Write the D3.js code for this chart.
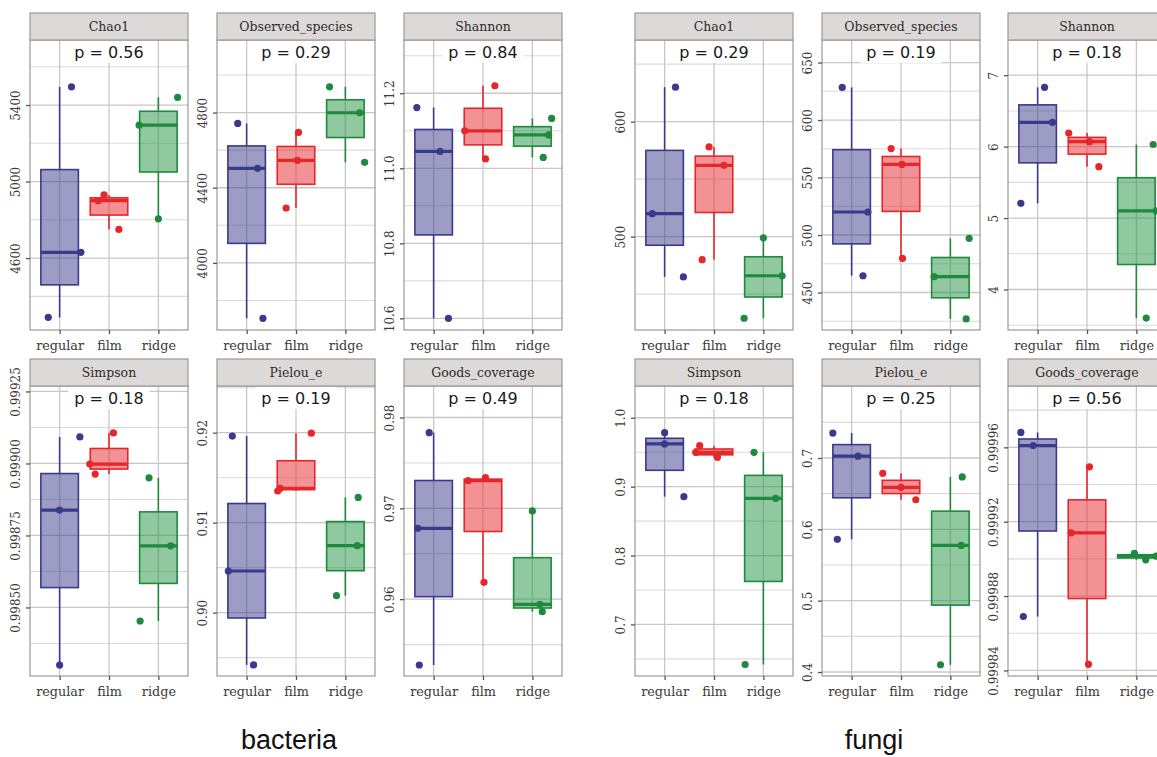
<!DOCTYPE html>
<html lang="en">
<head>
<meta charset="UTF-8">
<title>Alpha diversity</title>
<script src="https://cdn.jsdelivr.net/npm/d3@7"></script>
<style>
    body { margin: 0; background: #fff; overflow: hidden; }
    .tick text { font-family: "DejaVu Serif", serif; fill: #3d3838; }
    .tick line { stroke: #555; stroke-width: 1.3; }
</style>
</head>
<body>
<div id="plot"></div>
<script>
    // groups and facets
    let groups = ['regular', 'film', 'ridge'];
    let metrics = ['Chao1', 'Observed_species', 'Shannon', 'Simpson', 'Pielou_e', 'Goods_coverage'];

    // p values of the test, one per facet
    let bactP = ['0.56', '0.29', '0.84', '0.18', '0.19', '0.49'];
    let fungiP = ['0.29', '0.19', '0.18', '0.18', '0.25', '0.56'];

    // y tick labels per facet
    let bactTicks = [
        ['4600', '5000', '5400'],
        ['4000', '4400', '4800'],
        ['10.6', '10.8', '11.0', '11.2'],
        ['0.99850', '0.99875', '0.99900', '0.99925'],
        ['0.90', '0.91', '0.92'],
        ['0.96', '0.97', '0.98']
    ];
    let fungiTicks = [
        ['500', '600'],
        ['450', '500', '550', '600', '650'],
        ['4', '5', '6', '7'],
        ['0.7', '0.8', '0.9', '1.0'],
        ['0.4', '0.5', '0.6', '0.7'],
        ['0.99984', '0.99988', '0.99992', '0.99996']
    ];

    // y axis limits per facet
    let bactDomains = [
        [4224, 5740], [3643, 5186], [10.569, 11.342],
        [0.998262, 0.999269], [0.89296, 0.92519], [0.95154, 0.98347]
    ];
    let fungiDomains = [
        [418.8, 671], [417.4, 669.6], [3.433, 7.493],
        [0.6252, 1.0461], [0.39439, 0.80093], [0.999837, 0.999993]
    ];

    // sample values: facet -> group (regular, film, ridge) -> samples
    let bactValues = [
        [[5495, 4290, 4630], [4900, 4930, 4750], [5440, 5295, 4805]],
        [[4742, 3705, 4503], [4694, 4292, 4545], [4937, 4535, 4799]],
        [[11.162, 10.600, 11.045], [11.220, 11.025, 11.100], [11.133, 11.029, 11.089]],
        [[0.999092, 0.998300, 0.998838], [0.999106, 0.998963, 0.998998], [0.998950, 0.998453, 0.998714]],
        [[0.91963, 0.89419, 0.90463], [0.91995, 0.91352, 0.91381], [0.91281, 0.90189, 0.90744]],
        [[0.97833, 0.95275, 0.96780], [0.97338, 0.97305, 0.96185], [0.96971, 0.95862, 0.95943]]
    ];
    let fungiValues = [
        [[630, 465, 520], [578, 480, 562], [499, 429, 466]],
        [[628.4, 464.6, 520], [575.2, 479.7, 561.4], [497.1, 427, 463.8]],
        [[6.83, 5.207, 6.34], [6.19, 5.72, 6.07], [6.03, 3.60, 5.10]],
        [[0.9784, 0.8855, 0.9620], [0.9595, 0.9426, 0.9498], [0.9498, 0.6419, 0.8830]],
        [[0.7350, 0.5860, 0.7025], [0.6785, 0.6415, 0.6589], [0.6735, 0.4100, 0.5775]],
        [[0.999968, 0.999869, 0.999961], [0.9999495, 0.9998433, 0.999914], [0.999903, 0.9998995, 0.9999015]]
    ];

    // horizontal jitter of each sample, in category units
    let bactJitter = [
        [[0.24, -0.23, 0.43], [-0.22, -0.10, 0.20], [0.39, -0.39, 0.0]],
        [[-0.18, 0.33, 0.22], [0.05, -0.20, 0.03], [-0.32, 0.39, 0.29]],
        [[-0.34, 0.30, 0.13], [0.24, 0.05, -0.37], [0.39, 0.22, 0.33]],
        [[0.41, 0.0, 0.0], [0.09, -0.28, -0.39], [-0.19, -0.37, 0.25]],
        [[-0.29, 0.14, -0.37], [0.31, -0.37, -0.32], [0.26, -0.18, 0.24]],
        [[-0.09, -0.29, -0.32], [0.05, -0.30, 0.02], [0.0, 0.20, 0.15]]
    ];
    let fungiJitter = [
        [[0.22, 0.38, -0.25], [-0.10, -0.24, 0.20], [0.0, -0.39, 0.38]],
        [[-0.19, 0.23, 0.33], [-0.20, 0.03, 0.02], [0.38, 0.32, -0.33]],
        [[0.14, -0.34, 0.30], [-0.37, 0.24, 0.05], [0.34, 0.20, 0.40]],
        [[0.0, 0.39, 0.0], [-0.29, 0.07, -0.37], [-0.19, -0.37, 0.25]],
        [[-0.38, -0.29, 0.13], [-0.37, 0.30, 0.0], [0.24, -0.20, 0.22]],
        [[-0.34, -0.29, -0.09], [0.05, 0.03, -0.32], [-0.04, 0.19, 0.40]]
    ];

    let strokeCol = ['#3a3a8c', '#e5262b', '#1f8a3e'];
    let fillCol = ['#3a3a8c', '#e8262b', '#229140'];

    function translate(x, y) {
        return 'translate(' + x + ', ' + y + ')';
    }

    let svgWidth = 1157, svgHeight = 757;
    let panelW = 158, stripH = 27, plotH = 290;
    let colLeft = [[30, 217, 404], [635, 822, 1008]];
    let rowTop = [40, 386];

    let svg = d3.select('#plot')
        .append('svg')
        .attr('width', svgWidth)
        .attr('height', svgHeight);

    function drawPanel(g, metric, pText, tickLabels, domain, values, jitter) {
        let w = panelW, h = plotH;
        let x = d3.scaleLinear().domain([0.4, 3.6]).range([0, w]);
        let y = d3.scaleLinear().domain(domain).range([h, 0]);
        let ticks = tickLabels.map(Number);
        let step = ticks[1] - ticks[0];
        let minor = [];
        for (let i = -1; i < ticks.length; i++) minor.push(ticks[0] + (i + 0.5) * step);
        minor = minor.filter(v => v > domain[0] && v < domain[1]);

        g.append('rect').attr('width', w).attr('height', h).attr('fill', '#fff');

        g.selectAll('line.minor').data(minor).enter().append('line')
            .attr('class', 'minor')
            .attr('x1', 0).attr('x2', w)
            .attr('y1', d => y(d)).attr('y2', d => y(d))
            .attr('stroke', '#dedada').attr('stroke-width', 1.1);
        g.selectAll('line.major').data(ticks.filter(v => v > domain[0] && v < domain[1])).enter().append('line')
            .attr('class', 'major')
            .attr('x1', 0).attr('x2', w)
            .attr('y1', d => y(d)).attr('y2', d => y(d))
            .attr('stroke', '#cbc6c6').attr('stroke-width', 1.3);
        g.selectAll('line.vgrid').data([1, 2, 3]).enter().append('line')
            .attr('class', 'vgrid')
            .attr('x1', d => x(d)).attr('x2', d => x(d))
            .attr('y1', 0).attr('y2', h)
            .attr('stroke', '#cbc6c6').attr('stroke-width', 1.3);

        // p value label with white background
        let lab = g.append('g').attr('transform', translate(w / 2, 12));
        let labRect = lab.append('rect').attr('fill', '#fff');
        let labText = lab.append('text')
            .attr('text-anchor', 'middle')
            .attr('dy', '0.35em')
            .style('font-family', '"DejaVu Sans", sans-serif')
            .style('font-size', '16px')
            .attr('fill', '#1a1a1a')
            .text('p = ' + pText);
        let bb = labText.node().getBBox();
        labRect.attr('x', bb.x - 6).attr('y', -11).attr('width', bb.width + 12).attr('height', 22);

        values.forEach(function(vals, i) {
            let s = vals.slice().sort(d3.ascending);
            let q1 = d3.quantile(s, 0.25), med = d3.quantile(s, 0.5), q3 = d3.quantile(s, 0.75);
            let cx = x(i + 1);
            let bx0 = x(i + 1 - 0.38), bx1 = x(i + 1 + 0.38);
            let bg = g.append('g');
            bg.append('line')
                .attr('x1', cx).attr('x2', cx).attr('y1', y(q3)).attr('y2', y(s[s.length - 1]))
                .attr('stroke', strokeCol[i]).attr('stroke-width', 1.6);
            bg.append('line')
                .attr('x1', cx).attr('x2', cx).attr('y1', y(q1)).attr('y2', y(s[0]))
                .attr('stroke', strokeCol[i]).attr('stroke-width', 1.6);
            bg.append('rect')
                .attr('x', bx0).attr('width', bx1 - bx0)
                .attr('y', y(q3)).attr('height', Math.max(y(q1) - y(q3), 0.5))
                .attr('fill', fillCol[i]).attr('fill-opacity', 0.5)
                .attr('stroke', strokeCol[i]).attr('stroke-width', 1.6);
            bg.append('line')
                .attr('x1', bx0).attr('x2', bx1).attr('y1', y(med)).attr('y2', y(med))
                .attr('stroke', strokeCol[i]).attr('stroke-width', 3.2);
            bg.selectAll('circle').data(vals).enter().append('circle')
                .attr('cx', (d, k) => x(i + 1 + jitter[i][k]))
                .attr('cy', d => y(d))
                .attr('r', 3.6)
                .attr('fill', strokeCol[i]);
        });

        g.append('rect').attr('width', w).attr('height', h)
            .attr('fill', 'none').attr('stroke', '#9d9898').attr('stroke-width', 1.2);

        let yAxis = d3.axisLeft(y).tickValues(ticks).tickFormat((d, i) => tickLabels[i]).tickSize(4);
        let ya = g.append('g').call(yAxis);
        ya.select('.domain').remove();
        ya.selectAll('.tick text')
            .attr('x', null).attr('dy', null)
            .attr('transform', 'translate(-10, 0) rotate(-90)')
            .attr('text-anchor', 'middle')
            .style('font-size', '12px');

        let xAxis = d3.axisBottom(x).tickValues([1, 2, 3]).tickFormat((d, i) => groups[i]).tickSize(4);
        let xa = g.append('g').attr('transform', translate(0, h)).call(xAxis);
        xa.select('.domain').remove();
        xa.selectAll('.tick text')
            .attr('y', 20).attr('dy', null)
            .style('font-size', '12.8px');

        // facet strip
        g.append('rect').attr('y', -stripH).attr('width', w).attr('height', stripH)
            .attr('fill', '#ddd9d8').attr('stroke', '#9d9898').attr('stroke-width', 1.2);
        g.append('text')
            .attr('x', w / 2).attr('y', -stripH / 2).attr('dy', '0.35em')
            .attr('text-anchor', 'middle')
            .style('font-family', '"DejaVu Serif", serif')
            .style('font-size', '12.5px')
            .attr('fill', '#2e2a2a')
            .text(metric);
    }

    let sets = [
        {p: bactP, ticks: bactTicks, domains: bactDomains, values: bactValues, jitter: bactJitter},
        {p: fungiP, ticks: fungiTicks, domains: fungiDomains, values: fungiValues, jitter: fungiJitter}
    ];

    sets.forEach(function(set, s) {
        metrics.forEach(function(m, k) {
            let row = Math.floor(k / 3), col = k % 3;
            let g = svg.append('g').attr('transform', translate(colLeft[s][col], rowTop[row]));
            drawPanel(g, m, set.p[k], set.ticks[k], set.domains[k], set.values[k], set.jitter[k]);
        });
    });

    let titles = ['bacteria', 'fungi'];
    let titleX = [289, 874];
    svg.selectAll('text.title').data(titles).enter().append('text')
        .attr('class', 'title')
        .attr('x', (d, i) => titleX[i])
        .attr('y', 749)
        .attr('text-anchor', 'middle')
        .style('font-family', '"Liberation Sans", Arial, sans-serif')
        .style('font-size', '27px')
        .attr('fill', '#111')
        .text(d => d);
</script>
</body>
</html>
